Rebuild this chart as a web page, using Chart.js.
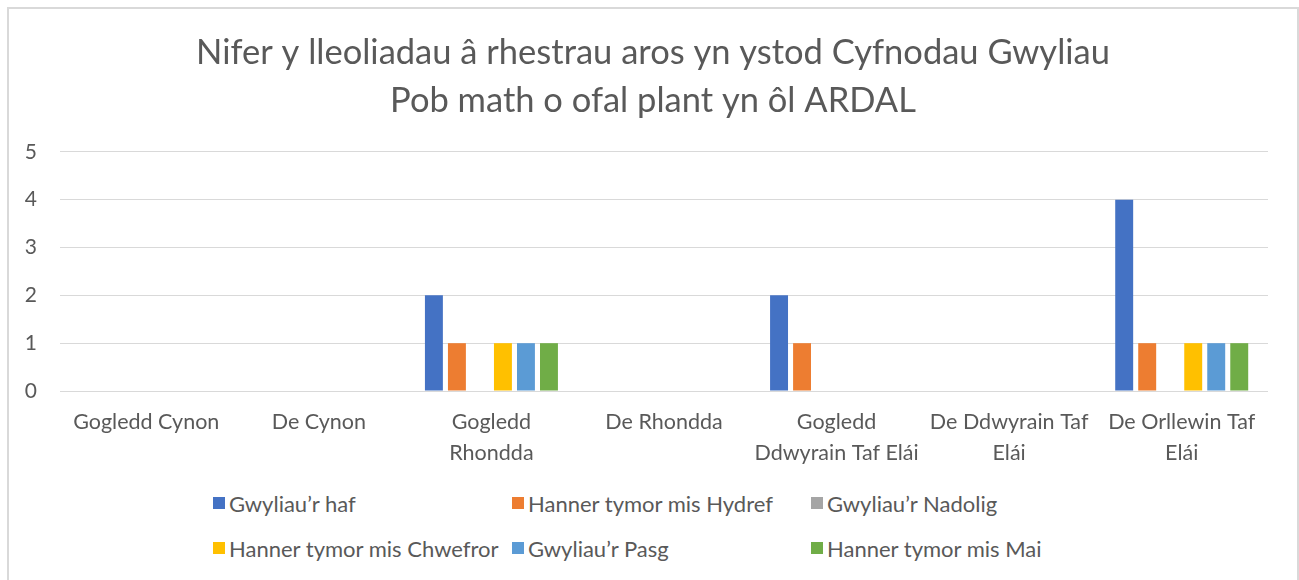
<!DOCTYPE html>
<html>
<head>
<meta charset="utf-8">
<script src="https://cdn.jsdelivr.net/npm/chart.js@4/dist/chart.umd.min.js"></script>
<style>
  html, body { margin: 0; padding: 0; background: #fff; }
  #frame {
    position: absolute; left: 7px; top: 7px; width: 1288px; height: 600px;
    border: 2px solid #d9d9d9; border-bottom: none; background: #fff;
  }
  #chart-wrap { position: absolute; left: 0; top: 0; width: 1288px; height: 470px; }
  #legend {
    position: absolute; left: 204px; top: 482px; width: 900px;
    display: grid; grid-template-columns: 299px 299px 299px; row-gap: 21px;
    font-family: Lato, sans-serif; font-size: 22px; color: #595959;
  }
  .item { display: flex; align-items: center; height: 24px; white-space: nowrap; }
  .box { width: 12px; height: 12px; margin-right: 4px; flex: none; }
</style>
</head>
<body>
<div id="frame">
  <div id="chart-wrap"><canvas id="chart"></canvas></div>
  <div id="legend"></div>
</div>
<script>
const titleLines = ['Nifer y lleoliadau â rhestrau aros yn ystod Cyfnodau Gwyliau', 'Pob math o ofal plant yn ôl ARDAL'];
const areas = [
  'Gogledd Cynon',
  'De Cynon',
  ['Gogledd', 'Rhondda'],
  'De Rhondda',
  ['Gogledd', 'Ddwyrain Taf Elái'],
  ['De Ddwyrain Taf', 'Elái'],
  ['De Orllewin Taf', 'Elái']
];
const seriesNames = [
  'Gwyliau’r haf',
  'Hanner tymor mis Hydref',
  'Gwyliau’r Nadolig',
  'Hanner tymor mis Chwefror',
  'Gwyliau’r Pasg',
  'Hanner tymor mis Mai'
];
const summer = [0, 0, 2, 0, 2, 0, 4];
const october = [0, 0, 1, 0, 1, 0, 1];
const christmas = [0, 0, 0, 0, 0, 0, 0];
const february = [0, 0, 1, 0, 0, 0, 1];
const easter = [0, 0, 1, 0, 0, 0, 1];
const may = [0, 0, 1, 0, 0, 0, 1];
const yTicks = [0, 1, 2, 3, 4, 5];

const colors = ['#4472C4', '#ED7D31', '#A5A5A5', '#FFC000', '#5B9BD5', '#70AD47'];
const values = [summer, october, christmas, february, easter, may];
const textColor = '#595959';
const font = 'Lato, sans-serif';

// legend drawn as html so the three columns line up like the original
const htmlLegend = {
  id: 'htmlLegend',
  afterUpdate(chart) {
    const box = document.getElementById('legend');
    box.innerHTML = '';
    chart.data.datasets.forEach((ds) => {
      const item = document.createElement('div');
      item.className = 'item';
      const sw = document.createElement('span');
      sw.className = 'box';
      sw.style.background = ds.backgroundColor;
      const label = document.createElement('span');
      label.textContent = ds.label;
      item.appendChild(sw);
      item.appendChild(label);
      box.appendChild(item);
    });
  }
};

// center the title on the whole canvas, not just the padded area
const fullWidthTitle = {
  id: 'fullWidthTitle',
  afterLayout(chart) {
    const t = chart.titleBlock;
    if (!t) return;
    t.left = 0;
    t.right = chart.width;
    t.width = chart.width;
  }
};

new Chart(document.getElementById('chart'), {
  type: 'bar',
  data: {
    labels: areas,
    datasets: seriesNames.map((name, i) => ({
      label: name,
      data: values[i],
      backgroundColor: colors[i],
      borderWidth: 0,
      categoryPercentage: 0.8,
      barPercentage: 0.78
    }))
  },
  options: {
    responsive: true,
    maintainAspectRatio: false,
    animation: false,
    layout: { padding: { left: 0, right: 29, top: 0, bottom: 0 } },
    plugins: {
      legend: { display: false },
      tooltip: { enabled: false },
      title: {
        display: true,
        text: titleLines,
        color: textColor,
        font: { family: font, size: 34.5, weight: 'normal', lineHeight: 1.39 },
        padding: { top: 20, bottom: 27 }
      }
    },
    scales: {
      x: {
        grid: { display: false },
        border: { display: false },
        ticks: {
          color: textColor,
          font: { family: font, size: 21.5, lineHeight: 1.45 },
          maxRotation: 0,
          autoSkip: false,
          padding: 7
        },
        afterFit(scale) { scale.height = 88; }
      },
      y: {
        min: 0,
        max: 5,
        grid: { color: '#d9d9d9', lineWidth: 1, drawTicks: false },
        border: { display: false },
        ticks: {
          stepSize: 1,
          color: textColor,
          font: { family: font, size: 21 },
          padding: 23,
          callback: (v) => yTicks.includes(v) ? v : ''
        },
        afterFit(scale) { scale.width = 51; }
      }
    }
  },
  plugins: [htmlLegend, fullWidthTitle]
});
</script>
</body>
</html>
